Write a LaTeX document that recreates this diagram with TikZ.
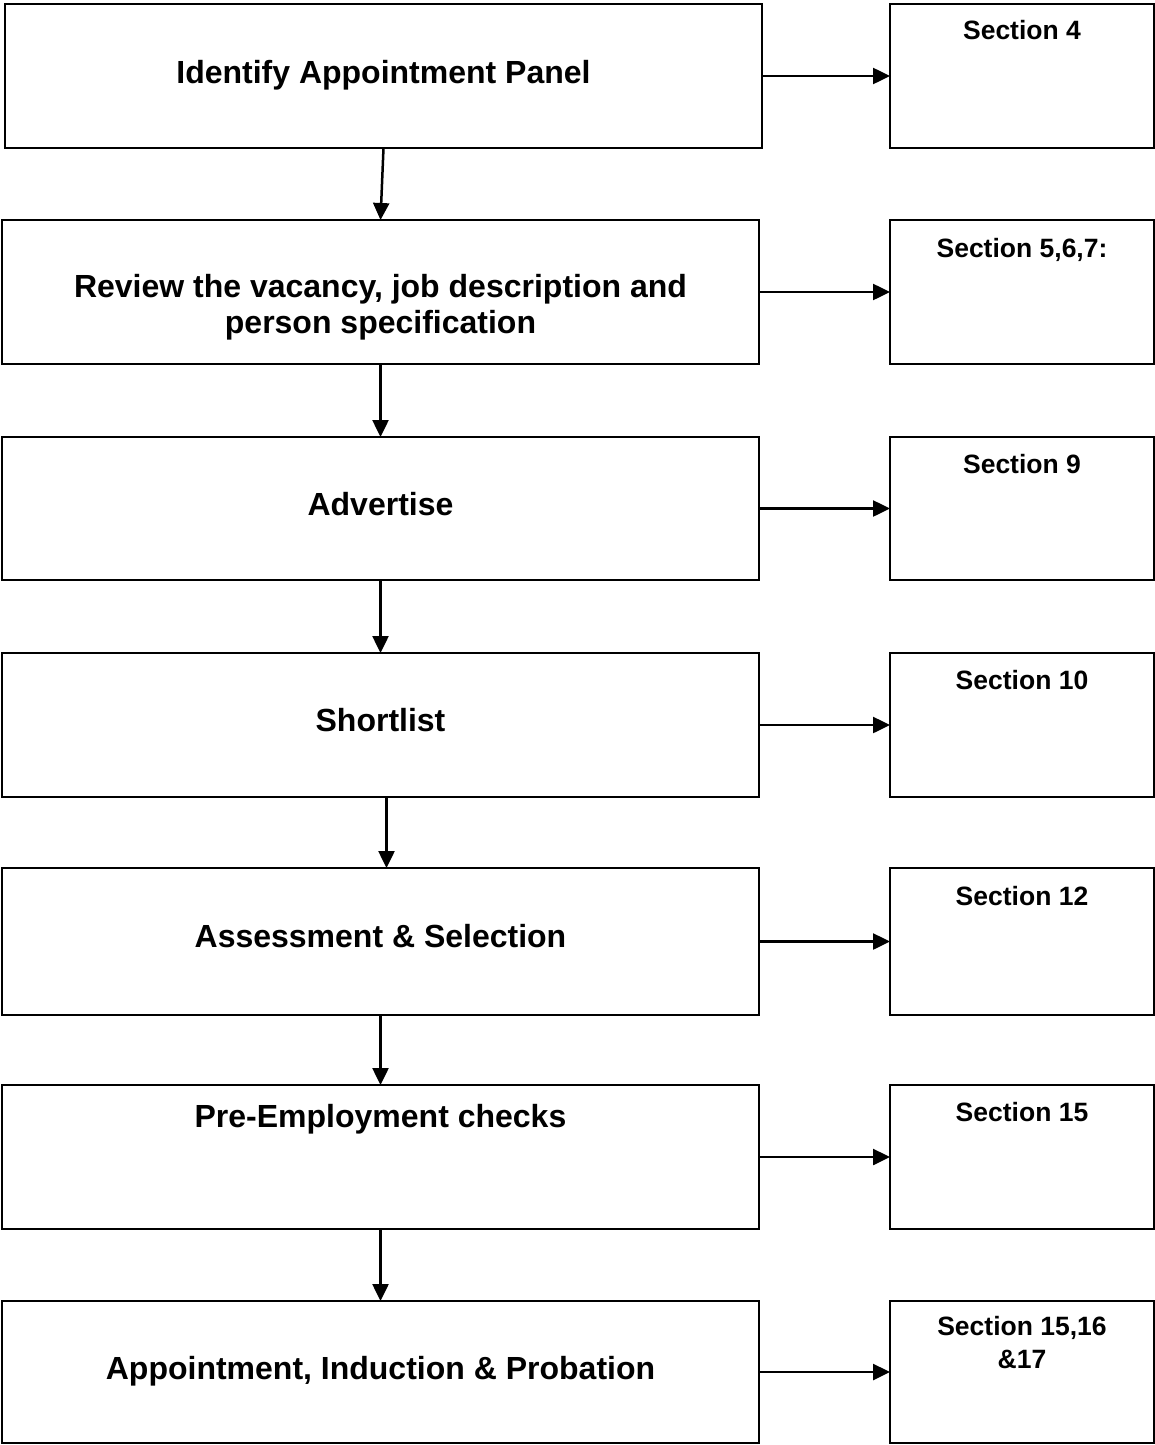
\documentclass[tikz,border=0pt]{standalone}
\usepackage{fontspec}
\setmainfont{Liberation Sans}
\usetikzlibrary{arrows.meta}
\tikzset{
  mainbox/.style={draw=black, line width=2.5pt, inner sep=0pt, outer sep=0pt, anchor=north west},
  secbox/.style={draw=black, line width=2.5pt, inner sep=0pt, outer sep=0pt, anchor=north west, minimum width=264pt},
  maintext/.style={anchor=base, inner sep=0pt, align=center, font=\fontsize{32}{35.5}\selectfont\bfseries},
  sectext/.style={anchor=base, inner sep=0pt, align=center, font=\fontsize{26.5}{33}\selectfont\bfseries},
  flow/.style={line width=2.5pt, -{Triangle[length=17pt,width=16pt]}}
}
\begin{document}
\begin{tikzpicture}[x=1pt,y=-1pt]
\useasboundingbox (0,0) rectangle (1155,1445);
% main boxes
\node[mainbox, minimum width=757pt, minimum height=144pt] (b1) at (5,4) {};
\node[mainbox, minimum width=757pt, minimum height=144pt] (b2) at (2,220) {};
\node[mainbox, minimum width=757pt, minimum height=143pt] (b3) at (2,437) {};
\node[mainbox, minimum width=757pt, minimum height=144pt] (b4) at (2,653) {};
\node[mainbox, minimum width=757pt, minimum height=147pt] (b5) at (2,868) {};
\node[mainbox, minimum width=757pt, minimum height=144pt] (b6) at (2,1085) {};
\node[mainbox, minimum width=757pt, minimum height=142pt] (b7) at (2,1301) {};
% section boxes
\node[secbox, minimum height=144pt] (s1) at (890,4) {};
\node[secbox, minimum height=144pt] (s2) at (890,220) {};
\node[secbox, minimum height=143pt] (s3) at (890,437) {};
\node[secbox, minimum height=144pt] (s4) at (890,653) {};
\node[secbox, minimum height=147pt] (s5) at (890,868) {};
\node[secbox, minimum height=144pt] (s6) at (890,1085) {};
\node[secbox, minimum height=142pt] (s7) at (890,1301) {};
% main texts
\node[maintext] (t1) at (383.5,84) {Identify Appointment Panel};
\node[maintext] (t2) at (380.5,333) {Review the vacancy, job description and\\person specification};
\node[maintext] (t3) at (380.5,515) {Advertise};
\node[maintext] (t4) at (380.5,731) {Shortlist};
\node[maintext] (t5) at (380.5,947) {Assessment \& Selection};
\node[maintext] (t6) at (380.5,1127) {Pre-Employment checks};
\node[maintext] (t7) at (380.5,1379) {Appointment, Induction \& Probation};
% section texts
\node[sectext] (u1) at (1022,40) {Section 4};
\node[sectext] (u2) at (1022,257) {Section 5,6,7:};
\node[sectext] (u3) at (1022,473) {Section 9};
\node[sectext] (u4) at (1022,689) {Section 10};
\node[sectext] (u5) at (1022,905) {Section 12};
\node[sectext] (u6) at (1022,1121) {Section 15};
\node[sectext] (u7) at (1022,1368) {Section 15,16\\\&17};
% horizontal connectors
\foreach \i in {1,...,7} { \draw[flow] (b\i.east) -- (s\i.west); }
% vertical connectors
\draw[flow] (b1.south) -- (b2.north);
\draw[flow] (b2.south) -- (b3.north);
\draw[flow] (b3.south) -- (b4.north);
\draw[flow] ([xshift=6pt]b4.south) -- ([xshift=6pt]b5.north);
\draw[flow] (b5.south) -- (b6.north);
\draw[flow] (b6.south) -- (b7.north);
\end{tikzpicture}
\end{document}
